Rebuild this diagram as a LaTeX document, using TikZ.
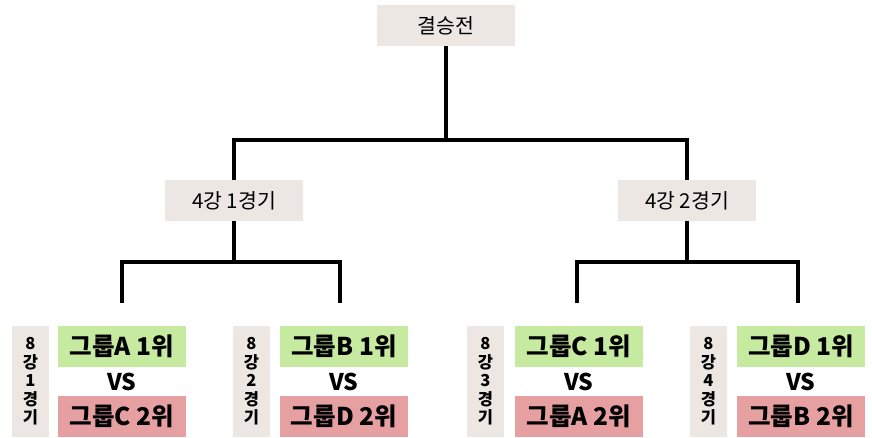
\documentclass[tikz,border=0pt]{standalone}
\usepackage{fontspec}
\setmainfont{Noto Sans CJK KR}
\definecolor{boxgray}{HTML}{ECE7E2}
\definecolor{boxgreen}{HTML}{C6EAA0}
\definecolor{boxred}{HTML}{E7A0A2}
\begin{document}
\begin{tikzpicture}[x=1pt,y=-1pt,
  lbl/.style={fill=boxgray,inner sep=0pt,font=\fontsize{20.5}{22}\selectfont},
  stagebox/.style={fill=boxgray,inner sep=0pt,minimum width=37pt,minimum height=111pt,align=center,font=\bfseries\fontsize{16.5}{18.5}\selectfont},
  win/.style={fill=boxgreen,inner sep=0pt,minimum width=128pt,minimum height=41pt,font=\bfseries\fontsize{24.5}{26}\selectfont},
  run/.style={fill=boxred,inner sep=0pt,minimum width=128pt,minimum height=41pt,font=\bfseries\fontsize{24.5}{26}\selectfont},
  vs/.style={inner sep=0pt,font=\bfseries\fontsize{23}{24}\selectfont},
  bar/.style={line width=4pt,draw=black}]
\useasboundingbox (0,0) rectangle (872,438);
% top
\node[lbl,minimum width=138pt,minimum height=41pt] (final) at (446,25.5) {결승전};
\node[lbl,minimum width=138pt,minimum height=41pt] (semi1) at (234,200.5) {4강 1경기};
\node[lbl,minimum width=138pt,minimum height=41pt] (semi2) at (687,200.5) {4강 2경기};
% matches
\foreach \i/\sx/\gx/\w/\r in {1/30.5/122/A/C,2/251.5/344/B/D,3/485.5/579/C/A,4/708.5/801/D/B}{
  \node[stagebox] (st\i) at (\sx,381.5) {8\\강\\\i\\경\\기};
  \node[win] (w\i) at (\gx,346) {그룹\w{} 1위};
  \node[vs] (vs\i) at (\gx,382) {VS};
  \node[run] (r\i) at (\gx,416.5) {그룹\r{} 2위};
}
\coordinate (j0) at (446,140);
\coordinate (j1) at (234,262);
\coordinate (j2) at (687,262);
\coordinate (e1) at (122,303);
\coordinate (e2) at (340,303);
\coordinate (e3) at (577,303);
\coordinate (e4) at (798,303);
\draw[bar] (final.south) -- (j0);
\draw[bar] (semi1.north) |- (j0) -| (semi2.north);
\draw[bar] (semi1.south) -- (j1);
\draw[bar] (semi2.south) -- (j2);
\draw[bar] (e1) |- (j1) -| (e2);
\draw[bar] (e3) |- (j2) -| (e4);
\end{tikzpicture}
\end{document}
